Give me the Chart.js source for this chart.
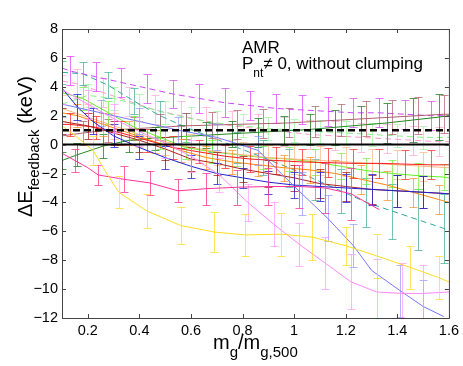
<!DOCTYPE html>
<html>
<head>
<meta charset="utf-8">
<script src="https://cdn.jsdelivr.net/npm/chart.js@4.4.0/dist/chart.umd.min.js"></script>
<style>
  body { margin: 0; background: #fff; }
  canvas { display: block; }
</style>
</head>
<body>
<canvas id="myChart" width="463" height="366"></canvas>
<script>
// tick labels
const xTickVals = [0.2, 0.4, 0.6, 0.8, 1, 1.2, 1.4, 1.6];
const yTickVals = [-12, -10, -8, -6, -4, -2, 0, 2, 4, 6, 8];

// reference lines
const xRef = [0.1, 1.6];
const yZero = [0, 0];
const yOne = [1, 1];

// shared x grids
const xA = [0.1, 0.2, 0.3, 0.4, 0.5, 0.6, 0.7, 0.8, 0.9, 1.0, 1.1, 1.2, 1.3, 1.4, 1.5, 1.6];
const xB = [0.1, 0.13, 0.23, 0.33, 0.43, 0.53, 0.63, 0.73, 0.83, 0.93, 1.03, 1.13, 1.23, 1.33, 1.43, 1.53, 1.6];
const xC = [0.1, 0.16, 0.26, 0.36, 0.46, 0.56, 0.66, 0.76, 0.86, 0.96, 1.06, 1.16, 1.26, 1.36, 1.46, 1.56, 1.6];
const xD = [0.1, 0.18, 0.28, 0.38, 0.48, 0.58, 0.68, 0.78, 0.88, 0.98, 1.08, 1.18, 1.28, 1.38, 1.48, 1.58, 1.6];

// yellow
const xYellow = [0.1, 0.16, 0.22, 0.27, 0.32, 0.43, 0.56, 0.69, 0.81, 0.95, 1.07, 1.2, 1.32, 1.45, 1.56, 1.6];
const yYellow = [1.3, 0.5, -0.4, -1.9, -3.3, -4.6, -5.6, -6.05, -6.25, -6.2, -6.4, -7.0, -7.7, -8.5, -9.2, -9.5];
const eYellow = [null, null, 1.0, null, 1.1, 1.2, 1.3, 1.4, 1.45, 1.5, 1.6, 1.3, 1.5, 1.5, 1.5, null];

// hot pink
const xPink = [0.1, 0.15, 0.2, 0.24, 0.34, 0.44, 0.55, 0.66, 0.78, 0.9, 1.02, 1.12, 1.22, 1.33];
const yPink = [-0.6, -1.1, -1.6, -2.1, -2.4, -2.65, -3.2, -3.05, -2.95, -2.9, -2.9, -3.0, -3.4, -4.5];
const ePink = [null, 0.8, null, 0.7, 0.9, 0.85, 0.8, 1.1, 1.2, 1.3, 1.5, 1.7, 1.8, null];

// plum
const xPlum = [0.1, 0.2, 0.3, 0.4, 0.5, 0.6, 0.71, 0.82, 0.92, 1.02, 1.12, 1.22, 1.32, 1.42, 1.5, 1.6];
const yPlum = [3.8, 2.8, 1.8, 0.9, 0.1, -0.8, -2.1, -4.0, -5.5, -6.9, -8.2, -9.5, -10.2, -10.3, -10.3, -10.2];
const ePlum = [1.0, 1.0, 1.0, 1.0, 1.0, 1.1, 1.2, 1.3, 1.5, 1.5, 1.8, 1.9, 2.3, 2.1, 2.0, null];

// light blue
const xLblue = [0.1, 0.25, 0.4, 0.55, 0.7, 0.86, 0.95, 1.03, 1.13, 1.23, 1.3, 1.41, 1.5, 1.58];
const yLblue = [2.8, 2.2, 1.6, 1.0, 0.5, -0.4, -2.0, -3.4, -5.1, -7.0, -8.7, -10.1, -11.2, -11.9];
const eLblue = [0.9, 0.9, 0.9, 0.9, 0.9, 1.0, null, 1.5, 1.6, 1.5, null, 1.8, 1.8, null];

// blue
const xBlue = [0.1, 0.16, 0.22, 0.3, 0.4, 0.5, 0.6, 0.7, 0.8, 0.9, 1.0, 1.1, 1.2, 1.3, 1.4, 1.5, 1.6];
const yBlue = [3.9, 2.6, 1.6, 0.6, -0.2, -0.9, -1.5, -2.0, -2.3, -2.6, -2.8, -2.9, -3.0, -3.1, -3.2, -3.3, -3.4];
const eBlue = [null, 0.9, 0.9, 0.8, 0.8, 0.8, 0.8, 0.7, 0.7, 0.8, 0.9, 1.0, 1.0, 1.1, 1.1, 1.1, null];

// maroon
const yMaroon = [1.6, 1.3, 0.8, 0.3, -0.3, -1.0, -1.3, -1.7, -2.0, -2.3, -2.7, -2.9, -3.1, -3.2, -3.3, -3.4];
const eMaroon = [0.9, 0.9, 0.8, 0.8, 0.8, 0.8, 0.8, 0.9, 0.9, 0.9, 1.0, 1.0, 1.0, 1.1, 1.1, null];

// red
const yRed = [1.4, 1.4, 1.2, 0.8, 0.3, -0.2, -0.5, -0.8, -1.0, -1.1, -1.2, -1.25, -1.3, -1.3, -1.35, -1.4, -1.4];
const eRed = [null, 0.8, 0.8, 0.8, 0.8, 0.8, 0.8, 0.8, 0.9, 0.9, 0.9, 1.0, 1.0, 1.0, 1.0, 1.0, null];

// orange
const yOrange = [2.2, 2.0, 1.4, 0.8, 0.2, -0.4, -0.9, -1.2, -1.4, -1.6, -1.75, -2.0, -2.4, -2.8, -3.3, -3.8, -4.0];
const eOrange = [null, 0.8, 0.8, 0.8, 0.8, 0.8, 0.8, 0.8, 0.8, 0.9, 0.9, 0.9, 1.0, 1.0, 1.0, 1.0, null];

// peach
const yPeach = [2.5, 1.9, 1.3, 0.7, 0.2, -0.2, -0.5, -0.7, -0.9, -1.0, -1.1, -1.2, -1.3, -1.4, -1.5, -1.6];
const ePeach = [0.9, 0.9, 0.9, 0.9, 0.9, 0.9, 0.9, 0.9, 0.9, 1.0, 1.0, 1.0, 1.0, 1.0, 1.0, null];

// lime
const yLime = [3.6, 3.2, 2.2, 1.2, 0.5, -0.2, -0.5, -0.7, -0.9, -1.0, -1.2, -1.5, -1.8, -2.0, -2.15, -2.25, -2.3];
const eLime = [null, 0.8, 0.8, 0.8, 0.8, 0.8, 0.8, 0.8, 0.8, 0.8, 0.9, 0.9, 0.9, 0.9, 0.9, 0.9, null];

// dark green
const yGreen = [-1.1, -0.7, -0.1, 0.3, 0.45, 0.55, 0.65, 0.75, 0.85, 0.95, 1.05, 1.2, 1.35, 1.5, 1.7, 1.9, 2.0];
const eGreen = [0.6, 0.8, 0.8, 0.8, 0.8, 0.8, 0.9, 0.9, 1.0, 1.0, 1.1, 1.2, 1.3, 1.4, 1.5, 1.6, null];

// rosy brown
const yRosy = [0.6, 0.8, 1.0, 1.1, 1.2, 1.3, 1.35, 1.4, 1.45, 1.5, 1.6, 1.7, 1.8, 1.9, 2.0, 2.1, 2.1];
const eRosy = [null, 0.8, 0.8, 0.8, 0.9, 0.9, 0.9, 1.0, 1.0, 1.0, 1.1, 1.1, 1.2, 1.2, 1.3, 1.3, null];

// magenta dashed
const yMagenta = [5.3, 5.1, 4.7, 4.3, 3.9, 3.5, 3.2, 2.9, 2.7, 2.5, 2.4, 2.3, 2.2, 2.2, 2.1, 2.0, 2.0];
const eMagenta = [null, 1.0, 1.0, 1.0, 1.0, 1.0, 1.0, 1.0, 1.0, 1.0, 1.0, 1.0, 1.0, 1.0, 1.0, 1.0, null];

// teal dashed
const yTeal = [5.0, 4.9, 4.1, 3.0, 2.0, 1.2, 0.5, -0.2, -0.9, -1.6, -2.4, -3.2, -4.0, -4.6, -5.2, -5.8, -6.0];
const eTeal = [0.8, 0.8, 0.9, 0.9, 1.0, 1.0, 1.0, 1.1, 1.2, 1.3, 1.4, 1.5, 1.7, 1.9, 2.1, 2.4, null];

// light green dashed
const yLgreen = [2.8, 3.4, 3.2, 2.7, 2.2, 1.8, 1.5, 1.3, 1.1, 1.0, 0.9, 0.8, 0.7, 0.6, 0.5, 0.5];
const eLgreen = [0.8, 0.8, 0.8, 0.8, 0.8, 0.8, 0.8, 0.8, 0.8, 0.8, 0.8, 0.8, 0.8, 0.8, 0.8, null];

// pink dashed
const yPinkDash = [4.4, 4.2, 3.6, 3.0, 2.4, 2.0, 1.6, 1.3, 1.1, 0.9, 0.7, 0.6, 0.5, 0.4, 0.3, 0.2, 0.2];
const ePinkDash = [null, 1.0, 1.0, 1.0, 1.0, 1.0, 1.0, 1.0, 1.0, 1.0, 1.0, 1.0, 1.0, 1.0, 1.0, 1.0, null];

function pts(xs, ys) {
  return xs.map((x, i) => ({ x: x, y: ys[i] }));
}

function series(xs, ys, err, color, errColor, dash, width) {
  return {
    data: pts(xs, ys),
    err: err,
    errColor: errColor,
    borderColor: color,
    borderWidth: width || 1,
    borderDash: dash || [],
    pointRadius: 0,
    tension: 0,
    fill: false,
  };
}

const datasets = [
  series(xRef, yZero, null, "#000", null, null, 2),
  series(xRef, yOne, null, "#000", null, [7, 4], 2.5),
  series(xYellow, yYellow, eYellow, "#ffdd22", "rgba(255,220,40,0.75)"),
  series(xPink, yPink, ePink, "#ff3399", "rgba(255,60,150,0.8)"),
  series(xPlum, yPlum, ePlum, "#ff88ff", "rgba(255,150,255,0.7)"),
  series(xLblue, yLblue, eLblue, "#7777ff", "rgba(130,130,255,0.6)"),
  series(xBlue, yBlue, eBlue, "#2222cc", "rgba(40,40,210,0.8)"),
  series(xA, yMaroon, eMaroon, "#aa2222", "rgba(170,40,40,0.8)"),
  series(xB, yRed, eRed, "#ff1a1a", "rgba(255,30,30,0.7)"),
  series(xC, yOrange, eOrange, "#ff8811", "rgba(255,140,30,0.7)"),
  series(xA, yPeach, ePeach, "#ffb380", "rgba(255,180,130,0.7)"),
  series(xD, yLime, eLime, "#66ee22", "rgba(110,240,60,0.7)"),
  series(xC, yGreen, eGreen, "#228822", "rgba(40,130,40,0.8)"),
  series(xD, yRosy, eRosy, "#b06070", "rgba(170,90,100,0.7)"),
  series(xB, yMagenta, eMagenta, "#cc44ff", "rgba(220,70,255,0.75)", [6, 4]),
  series(xD, yTeal, eTeal, "#33aa99", "rgba(60,170,150,0.7)", [6, 4]),
  series(xA, yLgreen, eLgreen, "#88ee88", "rgba(140,240,140,0.6)", [6, 4]),
  series(xC, yPinkDash, ePinkDash, "#ff99cc", "rgba(255,150,200,0.6)", [6, 4]),
];

const errorBars = {
  id: "errorBars",
  afterDatasetDraw(chart, args) {
    const ds = chart.data.datasets[args.index];
    if (!ds.err) return;
    const { ctx, chartArea: a, scales: { x, y } } = chart;
    ctx.save();
    ctx.beginPath();
    ctx.rect(a.left, a.top, a.right - a.left, a.bottom - a.top);
    ctx.clip();
    ctx.strokeStyle = ds.errColor;
    ctx.lineWidth = 1;
    ds.data.forEach((p, i) => {
      const e = ds.err[i];
      if (e == null) return;
      const px = Math.round(x.getPixelForValue(p.x)) + 0.5;
      const top = Math.round(y.getPixelForValue(p.y + e)) + 0.5;
      const bot = Math.round(y.getPixelForValue(p.y - e)) + 0.5;
      ctx.beginPath();
      ctx.moveTo(px, top);
      ctx.lineTo(px, bot);
      ctx.moveTo(px - 4, top);
      ctx.lineTo(px + 4, top);
      ctx.moveTo(px - 4, bot);
      ctx.lineTo(px + 4, bot);
      ctx.stroke();
    });
    ctx.restore();
  },
};

// box with inward ticks, titles and annotation
const frame = {
  id: "frame",
  afterDraw(chart) {
    const { ctx, chartArea: a, scales: { x, y } } = chart;
    ctx.save();
    ctx.strokeStyle = "#444";
    ctx.lineWidth = 1;
    ctx.strokeRect(a.left + 0.5, a.top + 0.5, a.right - a.left, a.bottom - a.top);
    ctx.beginPath();
    xTickVals.forEach((v) => {
      const px = Math.round(x.getPixelForValue(v)) + 0.5;
      ctx.moveTo(px, a.bottom);
      ctx.lineTo(px, a.bottom - 4);
      ctx.moveTo(px, a.top);
      ctx.lineTo(px, a.top + 4);
    });
    yTickVals.forEach((v) => {
      const py = Math.round(y.getPixelForValue(v)) + 0.5;
      ctx.moveTo(a.left, py);
      ctx.lineTo(a.left + 4, py);
      ctx.moveTo(a.right, py);
      ctx.lineTo(a.right - 4, py);
    });
    ctx.stroke();

    const fam = "'Liberation Sans', Arial, sans-serif";
    ctx.fillStyle = "#000";
    ctx.textBaseline = "alphabetic";
    ctx.textAlign = "left";

    // annotation
    ctx.font = "17px " + fam;
    ctx.fillText("AMR", 242, 53);
    let tx = 242;
    ctx.fillText("P", tx, 69);
    tx += ctx.measureText("P").width;
    ctx.font = "12px " + fam;
    ctx.fillText("nt", tx, 77);
    tx += ctx.measureText("nt").width;
    ctx.font = "17px " + fam;
    ctx.fillText("\u2260 0, without clumping", tx, 69);

    // x title
    let mx = 213;
    ctx.font = "20px " + fam;
    ctx.fillText("m", mx, 349);
    mx += ctx.measureText("m").width;
    ctx.font = "15px " + fam;
    ctx.fillText("g", mx, 357);
    mx += ctx.measureText("g").width;
    ctx.font = "20px " + fam;
    ctx.fillText("/m", mx, 349);
    mx += ctx.measureText("/m").width;
    ctx.font = "15px " + fam;
    ctx.fillText("g,500", mx, 357);

    // y title
    ctx.translate(32, 217);
    ctx.rotate(-Math.PI / 2);
    let ty = 0;
    ctx.font = "20px " + fam;
    ctx.fillText("\u0394E", ty, 0);
    ty += ctx.measureText("\u0394E").width;
    ctx.font = "15px " + fam;
    ctx.fillText("feedback", ty, 7);
    ty += ctx.measureText("feedback").width;
    ctx.font = "20px " + fam;
    ctx.fillText(" (keV)", ty, 0);
    ctx.restore();
  },
};

Chart.defaults.font.family = "'Liberation Sans', Arial, sans-serif";
Chart.defaults.color = "#000";

const ctx = document.getElementById("myChart").getContext("2d");
const myChart = new Chart(ctx, {
  type: "line",
  data: { datasets: datasets },
  options: {
    responsive: false,
    animation: false,
    layout: { padding: { top: 29, right: 14, left: 0, bottom: 0 } },
    plugins: { legend: { display: false }, tooltip: { enabled: false } },
    scales: {
      x: {
        type: "linear",
        min: 0.1,
        max: 1.6,
        afterBuildTicks: (s) => { s.ticks = xTickVals.map((v) => ({ value: v })); },
        afterFit: (s) => { s.height = 48; },
        grid: { display: false, drawTicks: false },
        border: { display: false },
        ticks: { padding: 4, font: { size: 14.5 }, maxRotation: 0, autoSkip: false,
          callback: (v) => String(v) },
      },
      y: {
        type: "linear",
        min: -12,
        max: 8,
        afterBuildTicks: (s) => { s.ticks = yTickVals.map((v) => ({ value: v })); },
        afterFit: (s) => { s.width = 62; },
        grid: { display: false, drawTicks: false },
        border: { display: false },
        ticks: { padding: 4, font: { size: 14.5 }, autoSkip: false,
          callback: (v) => (v < 0 ? "\u2212" + Math.abs(v) : String(v)) },
      },
    },
  },
  plugins: [errorBars, frame],
});
</script>
</body>
</html>
